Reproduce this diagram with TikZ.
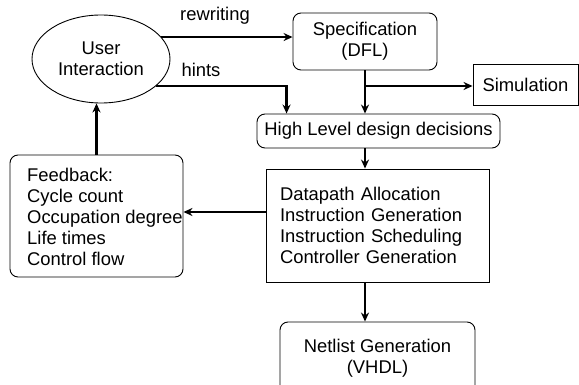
\documentclass[tikz,border=0pt]{standalone}
\usepackage{fontspec}
\setmainfont{Liberation Sans}
\usetikzlibrary{arrows.meta, positioning, calc, shapes.geometric}

\begin{document}
\begin{tikzpicture}[
                    x=1pt, y=-1pt,
                    every node/.style={font=\fontsize{18.4}{21}\selectfont, inner sep=0pt},
                    flow/.style={-{Stealth[length=9pt,width=8pt]}, line width=2.6pt},
                    roundbox/.style={draw, rounded corners=8pt, line width=0.9pt, align=center},
                    plainbox/.style={draw, line width=0.9pt, align=center},
                ]
                \useasboundingbox (0,0) rectangle (579,385);
                \node[ellipse, draw, line width=0.9pt, minimum width=138, minimum height=88, align=center] (user) at (101,59) {User\\Interaction};
                \node[roundbox, minimum width=144, minimum height=57] (spec) at (365,41.5) {Specification\\(DFL)};
                \node[plainbox, minimum width=105, minimum height=41] (sim) at (525.5,84.5) {Simulation};
                \node[roundbox, minimum width=243, minimum height=34] (hl) at (378.5,131) {High Level design decisions};
                \node[plainbox, minimum width=223, minimum height=113, text width=195, inner xsep=14pt, align=left] (dp) at (377.5,225.5)
                    {Datapath Allocation\\Instruction Generation\\Instruction Scheduling\\Controller Generation};
                \node[roundbox, minimum width=195, minimum height=72] (net) at (377.5,358) {Netlist Generation\\(VHDL)};
                \node[roundbox, minimum width=173, minimum height=122] (fb) at (96.5,216) {};
                \node[align=left, anchor=west] (fbtext) at (27,217) {Feedback:\\Cycle count\\Occupation degree\\Life times\\Control flow};
                % edge labels
                \node (rewlabel) at (215,16) {rewriting};
                \node (hintslabel) at (201,70) {hints};
                % connectors
                \coordinate (hintsdrop) at ([xshift=30pt]hl.north west);
                \draw[flow] (user.20) -- (user.20 -| spec.west);
                \draw[flow] (user.-26) -| (hintsdrop);
                \draw[flow] (spec.south) -- (spec.south |- hl.north);
                \draw[flow] ([yshift=-1.5pt]spec.south |- sim.west) -- ([yshift=-1.5pt]sim.west);
                \draw[flow] (hl.south -| spec.south) -- (dp.north -| spec.south);
                \draw[flow] (dp.south -| spec.south) -- (net.north -| spec.south);
                \draw[flow] ([yshift=13.5pt]dp.west) -- ([yshift=13.5pt]dp.west -| fb.east);
                \draw[flow] (fb.north) -- (fb.north |- user.south);
\end{tikzpicture}
\end{document}
